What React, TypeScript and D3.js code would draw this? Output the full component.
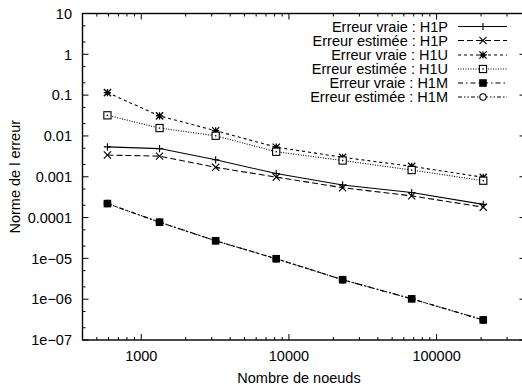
import React from "react";
import * as d3 from "d3";

const nodes = [590, 1330, 3190, 8200, 23100, 67800, 207000];
const h1pVraie = [0.0054, 0.0049, 0.0026, 0.0012, 0.00063, 0.00041, 0.00021];
const h1pEstimee = [0.0034, 0.0032, 0.0017, 0.00098, 0.00054, 0.00034, 0.00018];
const h1uVraie = [0.115, 0.031, 0.0134, 0.0053, 0.003, 0.0018, 0.00097];
const h1uEstimee = [0.032, 0.0156, 0.0101, 0.0041, 0.0025, 0.00146, 0.0008];
const h1mVraie = [0.00022, 7.7e-5, 2.7e-5, 9.8e-6, 3.0e-6, 1.02e-6, 3.1e-7];
const h1mEstimee = [0.00022, 7.7e-5, 2.7e-5, 9.8e-6, 3.0e-6, 1.02e-6, 3.1e-7];

const seriesNames = [
  "Erreur vraie : H1P",
  "Erreur estimée : H1P",
  "Erreur vraie : H1U",
  "Erreur estimée : H1U",
  "Erreur vraie : H1M",
  "Erreur estimée : H1M",
];
const yTickValues = [10, 1, 0.1, 0.01, 0.001, 0.0001, 1e-5, 1e-6, 1e-7];
const yTickLabels = ["10", "1", "0.1", "0.01", "0.001", "0.0001", "1e\u221205", "1e\u221206", "1e\u221207"];
const xTickValues = [1000, 10000, 100000];
const xTickLabels = ["1000", "10000", "100000"];
const xDomain = [400, 400000];
const yDomain = [1e-7, 10];

const W = 522, H = 391;
const L = 82.5, R = 525.5, T = 13.5, B = 340;
const FONT = "'Liberation Sans', Arial, Helvetica, sans-serif";
const FS = 14.5;

type MarkerKind = "plus" | "cross" | "star" | "boxdot" | "fbox" | "circle";

function Marker({ kind, cx, cy }: { kind: MarkerKind; cx: number; cy: number }) {
  const s = 3.6;
  switch (kind) {
    case "plus":
      return <path d={`M${cx - s},${cy}H${cx + s}M${cx},${cy - s}V${cy + s}`} stroke="#000" strokeWidth={1.1} fill="none" />;
    case "cross":
      return <path d={`M${cx - s},${cy - s}L${cx + s},${cy + s}M${cx - s},${cy + s}L${cx + s},${cy - s}`} stroke="#000" strokeWidth={1.1} fill="none" />;
    case "star":
      return <path d={`M${cx - s},${cy - s}L${cx + s},${cy + s}M${cx - s},${cy + s}L${cx + s},${cy - s}M${cx - s},${cy}H${cx + s}M${cx},${cy - s}V${cy + s}`} stroke="#000" strokeWidth={1.3} fill="none" />;
    case "boxdot":
      return (
        <g>
          <rect x={cx - 3.6} y={cy - 3.6} width={7.2} height={7.2} fill="#fff" stroke="#000" strokeWidth={1.1} />
          <rect x={cx - 0.7} y={cy - 0.7} width={1.4} height={1.4} fill="#000" />
        </g>
      );
    case "fbox":
      return <rect x={cx - 3.8} y={cy - 3.8} width={7.6} height={7.6} fill="#000" />;
    case "circle":
      return <circle cx={cx} cy={cy} r={3.2} fill="#fff" stroke="#000" strokeWidth={1.1} />;
  }
}

const styles: { dash: string; marker: MarkerKind; width: number }[] = [
  { dash: "none", marker: "plus", width: 1.1 },
  { dash: "6,3", marker: "cross", width: 1.1 },
  { dash: "3,3", marker: "star", width: 1.1 },
  { dash: "1,1.5", marker: "boxdot", width: 1.1 },
  { dash: "5,3,1.5,3", marker: "fbox", width: 1.1 },
  { dash: "4,2,1.5,2,1.5,2", marker: "circle", width: 1.1 },
];

export default function App() {
  const x = d3.scaleLog().domain(xDomain).range([L, R]);
  const y = d3.scaleLog().domain(yDomain).range([B, T]);
  const allSeries = [h1pVraie, h1pEstimee, h1uVraie, h1uEstimee, h1mVraie, h1mEstimee];
  const line = d3
    .line<[number, number]>()
    .x((d) => x(d[0]))
    .y((d) => y(d[1]));

  const xMinor: number[] = [];
  for (let e = 2; e <= 5; e++) {
    for (let m = 2; m <= 9; m++) {
      const v = m * Math.pow(10, e);
      if (v > xDomain[0] && v < xDomain[1]) xMinor.push(v);
    }
  }
  const yMinor: number[] = [];
  for (let e = -7; e <= 0; e++) {
    for (const m of [2, 5]) yMinor.push(m * Math.pow(10, e));
  }

  const order = [5, 0, 1, 2, 3, 4];
  const legendY = [26.5, 40.5, 55, 69, 83, 97];

  return (
    <svg width={W} height={H} style={{ position: "absolute", left: 0, top: 0, background: "#fff" }} fontFamily={FONT}>
      <rect x={0} y={0} width={W} height={H} fill="#fff" />
      <g stroke="#000" strokeWidth={1}>
        {xTickValues.map((v) => (
          <g key={"xt" + v}>
            <line x1={x(v)} x2={x(v)} y1={B} y2={B - 6} />
            <line x1={x(v)} x2={x(v)} y1={T} y2={T + 6} />
          </g>
        ))}
        {xMinor.map((v) => (
          <g key={"xm" + v}>
            <line x1={x(v)} x2={x(v)} y1={B} y2={B - 3} />
            <line x1={x(v)} x2={x(v)} y1={T} y2={T + 3} />
          </g>
        ))}
        {yTickValues.map((v) => (
          <g key={"yt" + v}>
            <line x1={L} x2={L + 6} y1={y(v)} y2={y(v)} />
            <line x1={R} x2={R - 6} y1={y(v)} y2={y(v)} />
          </g>
        ))}
        {yMinor.map((v) => (
          <g key={"ym" + v}>
            <line x1={L} x2={L + 3} y1={y(v)} y2={y(v)} />
            <line x1={R} x2={R - 3} y1={y(v)} y2={y(v)} />
          </g>
        ))}
      </g>
      <g fontSize={FS} fill="#000">
        {yTickValues.map((v, i) => (
          <text key={"yl" + v} x={72} y={y(v)} dy="0.36em" textAnchor="end">
            {yTickLabels[i]}
          </text>
        ))}
        {xTickValues.map((v, i) => (
          <text key={"xl" + v} x={x(v)} y={361} textAnchor="middle">
            {xTickLabels[i]}
          </text>
        ))}
      </g>
      <text x={299} y={383} fontSize={FS} textAnchor="middle">
        Nombre de noeuds
      </text>
      <text transform={`translate(20,${(T + B) / 2}) rotate(-90)`} fontSize={FS} textAnchor="middle">
        Norme de l erreur
      </text>
      {order.map((si) => {
        const st = styles[si];
        const pts: [number, number][] = nodes.map((n, j) => [n, allSeries[si][j]]);
        return (
          <g key={"s" + si}>
            <path d={line(pts) || ""} fill="none" stroke="#000" strokeWidth={st.width} strokeDasharray={st.dash} />
            {pts.map((p, j) => (
              <Marker key={j} kind={st.marker} cx={x(p[0])} cy={y(p[1])} />
            ))}
          </g>
        );
      })}
      <g fontSize={FS}>
        {seriesNames.map((name, i) => (
          <g key={"lg" + i}>
            <text x={448} y={legendY[i]} dy="0.36em" textAnchor="end">
              {name}
            </text>
            <line x1={458} x2={507} y1={legendY[i]} y2={legendY[i]} stroke="#000" strokeWidth={styles[i].width} strokeDasharray={styles[i].dash} />
            <Marker kind={styles[i].marker} cx={483} cy={legendY[i]} />
          </g>
        ))}
      </g>
      <rect x={L} y={T} width={R - L} height={B - T} fill="none" stroke="#000" strokeWidth={1.4} />
    </svg>
  );
}
